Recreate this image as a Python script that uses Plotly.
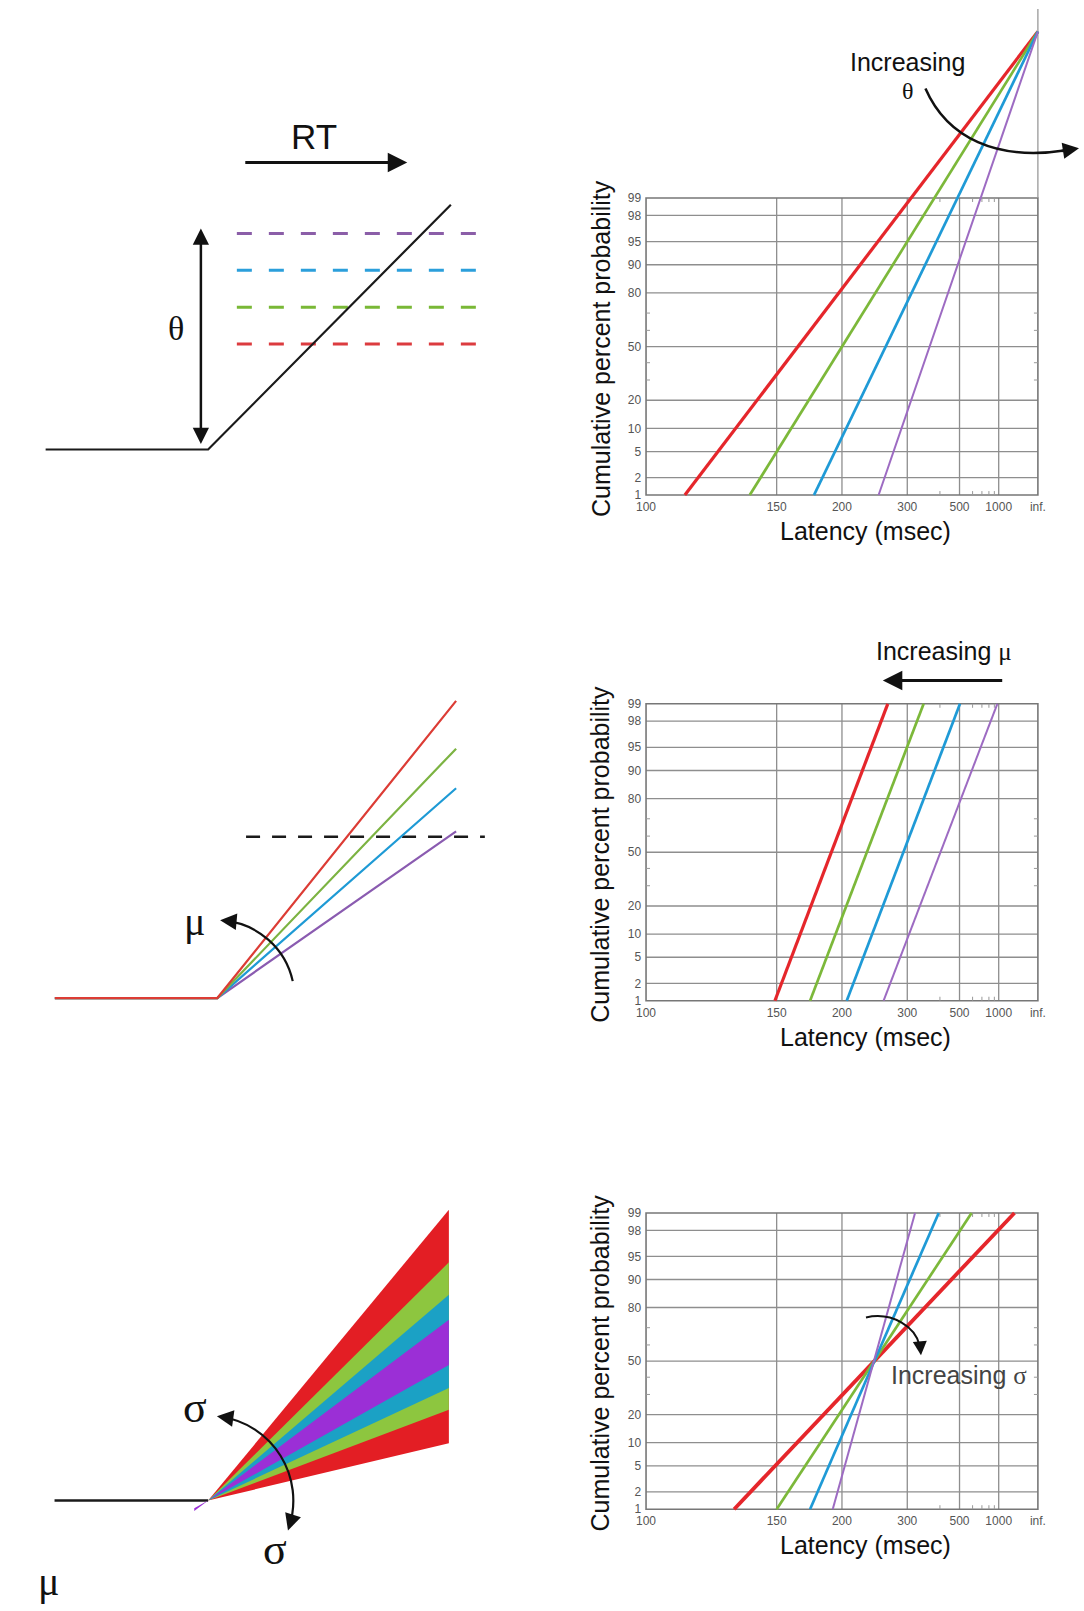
import math
from statistics import NormalDist
import plotly.graph_objects as go

# ---------------- data ----------------
ORDER = ["red", "green", "blue", "purple"]
LINE_COLORS = ["#e5262b", "#7cb83a", "#1f9ad6", "#9d6bc2"]
LINE_WIDTHS = [3.2, 2.7, 2.7, 2.0]

PCT_TICKS = [1, 2, 5, 10, 20, 50, 80, 90, 95, 98, 99]
PCT_MINOR = [30, 40, 60, 70]
LAT_TICKS = [100, 150, 200, 300, 500, 1000]
LAT_TICK_LABELS = ["100", "150", "200", "300", "500", "1000", "inf."]
LAT_MINOR = [400, 600, 700, 800, 900]

# Panel A (theta): latency at 1 %, all lines meet at infinite latency
THETA_LAT_1PCT = [111, 136, 175, 246]
THETA_APEX_PCT = 99.99996
# Panel B (mu): latency at 1 % and 99 %
MU_LAT_1PCT = [149, 172, 205, 254]
MU_LAT_99PCT = [261, 343, 503, 966]
# Panel C (sigma): latency at 1 % and 99 %
SIGMA_LAT_1PCT = [129, 150, 172, 191]
SIGMA_LAT_99PCT = [1670, 591, 395, 319]

# Schematic A: single rise, four thresholds (red, green, blue, purple)
A_TIME = [-164, 0, 245]
A_SIGNAL = [0, 0, 246]
A_THRESHOLDS = [106, 143, 180, 217]
A_THRESH_COLORS = ["#dc3b3f", "#79b836", "#2b9fdb", "#8b5ea8"]
A_DASH_SPAN = [29, 271]
# Schematic B: four rates of rise, one threshold
B_RATES = [1.239, 1.040, 0.875, 0.695]
B_TIME = [-164, 0, 241]
B_THRESHOLD = 162
B_DASH_SPAN = [29, 270]
B_COLORS = ["#dc3c35", "#7cb342", "#1e9ad5", "#8a5bb0"]
# Schematic C: fan of rates (upper / lower slope of each band)
C_UPPER = [1.203, 0.985, 0.851, 0.748]
C_LOWER = [0.237, 0.375, 0.465, 0.561]
C_START = [0, 0, 0, -14]
C_END = 243
C_BASE = [-155, 0]
C_COLORS = ["#e31e24", "#8dc63f", "#1ba1c5", "#9b2fd6"]

# ---------------- layout helpers ----------------
W, H = 1084, 1611
SANS = "Liberation Sans, Arial, sans-serif"
SERIF = "Liberation Serif, Times New Roman, serif"
nd = NormalDist()


def probit(p):
    return nd.inv_cdf(p / 100.0)


def recip(lat):
    return 0.0 if math.isinf(lat) else -1000.0 / lat


XL, XR = 646.0, 1041.5
XPX = (XR - XL) / 10.0
XPAD = 0.1
Z99 = probit(99)
ZPAD = 0.05
ROWS = [(195.0, 493.5), (703.3, 1001.7), (1215.0, 1512.7)]

fig = go.Figure()
layout_axes = {}
shapes = []
annotations = []

for i, (top, bot) in enumerate(ROWS):
    n = "" if i == 0 else str(i + 1)
    zpx = (bot - top) / (2 * Z99)
    y_lo = -Z99 - ZPAD
    if i == 0:
        y_hi = Z99 + (top - 5) / zpx
    else:
        y_hi = Z99 + ZPAD
    dom_y0 = 1 - (bot + ZPAD * zpx) / H
    dom_y1 = 1 - (bot - (y_hi - y_lo - ZPAD) * zpx) / H
    layout_axes["xaxis" + n] = dict(
        domain=[(XL - XPAD * XPX) / W, (XR + XPAD * XPX) / W],
        range=[-10 - XPAD, XPAD], anchor="y" + n,
        tickvals=[recip(v) for v in LAT_TICKS] + [0.0], ticktext=LAT_TICK_LABELS,
        tickfont=dict(size=12, color="#555", family=SANS),
        showgrid=False, zeroline=False, showline=False, ticks="", fixedrange=True)
    layout_axes["yaxis" + n] = dict(
        domain=[dom_y0, dom_y1], range=[y_lo, y_hi], anchor="x" + n,
        tickvals=[probit(p) for p in PCT_TICKS], ticktext=[str(p) for p in PCT_TICKS],
        tickfont=dict(size=12, color="#555", family=SANS),
        showgrid=False, zeroline=False, showline=False, ticks="", fixedrange=True)
    xr, yr = "x" + n, "y" + n
    z1, z99 = probit(1), probit(99)
    gcol = "#8e8e8e"
    for p in PCT_TICKS[1:-1]:
        shapes.append(dict(type="line", xref=xr, yref=yr, x0=-10, x1=0, y0=probit(p), y1=probit(p),
                           line=dict(color=gcol, width=1.3), layer="below"))
    for v in LAT_TICKS[1:]:
        shapes.append(dict(type="line", xref=xr, yref=yr, x0=recip(v), x1=recip(v), y0=z1, y1=z99,
                           line=dict(color=gcol, width=1.3), layer="below"))
    shapes.append(dict(type="rect", xref=xr, yref=yr, x0=-10, x1=0, y0=z1, y1=z99,
                       line=dict(color="#777", width=1.6), layer="below"))
    if i == 0:
        shapes.append(dict(type="line", xref=xr, yref=yr, x0=0, x1=0, y0=z99, y1=y_hi,
                           line=dict(color="#999", width=1.3), layer="below"))
    tz = 4 / zpx
    for v in LAT_MINOR:
        for yy, d in ((z1, tz), (z99, -tz)):
            shapes.append(dict(type="line", xref=xr, yref=yr, x0=recip(v), x1=recip(v), y0=yy, y1=yy + d,
                               line=dict(color="#999", width=1), layer="below"))
    tx = 4 / XPX
    for p in PCT_MINOR:
        for xx, d in ((-10, tx), (0, -tx)):
            shapes.append(dict(type="line", xref=xr, yref=yr, x0=xx, x1=xx + d, y0=probit(p), y1=probit(p),
                               line=dict(color="#999", width=1), layer="below"))
    # axis titles
    annotations.append(dict(xref="x4", yref="y4", x=600, y=(top + bot) / 2 + 2, text="Cumulative percent probability",
                            textangle=-90, showarrow=False, font=dict(size=25, color="#111", family=SANS)))
    annotations.append(dict(xref="x4", yref="y4", x=868, y=bot + 36, text="Latency (msec)",
                            showarrow=False, font=dict(size=25, color="#111", family=SANS)))

# reciprobit lines
for k in range(4):
    fig.add_trace(go.Scatter(x=[recip(THETA_LAT_1PCT[k]), recip(math.inf)],
                             y=[probit(1), probit(THETA_APEX_PCT)], mode="lines",
                             line=dict(color=LINE_COLORS[k], width=LINE_WIDTHS[k]),
                             xaxis="x", yaxis="y", showlegend=False, hoverinfo="skip"))
for k in range(4):
    fig.add_trace(go.Scatter(x=[recip(MU_LAT_1PCT[k]), recip(MU_LAT_99PCT[k])],
                             y=[probit(1), probit(99)], mode="lines",
                             line=dict(color=LINE_COLORS[k], width=LINE_WIDTHS[k]),
                             xaxis="x2", yaxis="y2", showlegend=False, hoverinfo="skip"))
for k in range(4):
    fig.add_trace(go.Scatter(x=[recip(SIGMA_LAT_1PCT[k]), recip(SIGMA_LAT_99PCT[k])],
                             y=[probit(1), probit(99)], mode="lines",
                             line=dict(color=LINE_COLORS[k], width=LINE_WIDTHS[k] + (0.6 if k == 0 else 0)),
                             xaxis="x3", yaxis="y3", showlegend=False, hoverinfo="skip"))

# canvas axis for schematics (pixel-like units)
layout_axes["xaxis4"] = dict(domain=[0, 1], range=[0, W], anchor="y4", visible=False, fixedrange=True)
layout_axes["yaxis4"] = dict(domain=[0, 1], range=[H, 0], anchor="x4", visible=False, fixedrange=True)


def canvas_line(xs, ys, color, width, dash=None):
    fig.add_trace(go.Scatter(x=xs, y=ys, mode="lines", xaxis="x4", yaxis="y4",
                             line=dict(color=color, width=width, dash=dash),
                             showlegend=False, hoverinfo="skip"))


def arrow(x, y, ax, ay, color="#111", width=2.5, size=1.3, side="end"):
    annotations.append(dict(xref="x4", yref="y4", axref="x4", ayref="y4", x=x, y=y, ax=ax, ay=ay,
                            text="", showarrow=True, arrowhead=2, arrowsize=size, arrowwidth=width,
                            arrowcolor=color, arrowside=side, standoff=0, startstandoff=0))


def text(x, y, s, size, family=SANS, color="#111"):
    annotations.append(dict(xref="x4", yref="y4", x=x, y=y, text=s, showarrow=False,
                            font=dict(size=size, family=family, color=color)))


def arc_path(cx, cy, r, a0, a1, nseg):
    da = (a1 - a0) / nseg
    kk = 4 / 3 * math.tan(math.radians(da) / 4)
    path = ""
    for s_i in range(nseg):
        s = math.radians(a0 + s_i * da)
        e = math.radians(a0 + (s_i + 1) * da)
        p0 = (cx + r * math.cos(s), cy - r * math.sin(s))
        p3 = (cx + r * math.cos(e), cy - r * math.sin(e))
        p1 = (p0[0] - kk * r * math.sin(s), p0[1] - kk * r * math.cos(s))
        p2 = (p3[0] + kk * r * math.sin(e), p3[1] + kk * r * math.cos(e))
        if s_i == 0:
            path += f"M {p0[0]:.1f},{p0[1]:.1f} "
        path += f"C {p1[0]:.1f},{p1[1]:.1f} {p2[0]:.1f},{p2[1]:.1f} {p3[0]:.1f},{p3[1]:.1f} "
    return path


def path_shape(path, color, width):
    shapes.append(dict(type="path", xref="x4", yref="y4", path=path,
                       line=dict(color=color, width=width)))


# --- schematic A ---
OAX, OAY = 204.0, 447.7
for lvl, col in zip(A_THRESHOLDS, A_THRESH_COLORS):
    canvas_line([OAX + A_DASH_SPAN[0], OAX + A_DASH_SPAN[1]], [OAY - lvl, OAY - lvl], col, 3, "15px,17px")
canvas_line([OAX + t for t in A_TIME], [OAY - s for s in A_SIGNAL], "#1a1a1a", 2.2)
arrow(405, 159.3, 240, 159.3, width=3, size=1.3)
text(311, 133, "RT", 35)
arrow(196.7, OAY - max(A_THRESHOLDS) - 5, 196.7, OAY - 4, width=2.5, size=1.3, side="end+start")
text(172, 326, "θ", 34, SERIF)

# --- schematic B ---
OBX, OBY = 213.3, 999.0
canvas_line([OBX + B_DASH_SPAN[0], OBX + B_DASH_SPAN[1]], [OBY - B_THRESHOLD] * 2, "#1a1a1a", 2.5, "14px,12px")
for rate, col in list(zip(B_RATES, B_COLORS))[::-1]:
    canvas_line([OBX + t for t in B_TIME], [OBY - rate * max(t, 0) for t in B_TIME], col, 2.2)
a0, a1, rr = 12.6, 85.0, 78.0
path_shape(arc_path(OBX, OBY, rr, a0, a1, 1), "#111", 2.2)
ea = math.radians(a1)
ex, ey = OBX + rr * math.cos(ea), OBY - rr * math.sin(ea)
arrow(ex - 4 * math.sin(ea), ey - 4 * math.cos(ea), ex + 8 * math.sin(ea), ey + 8 * math.cos(ea), width=2.2, size=1.5)
text(190, 922, "μ", 40, SERIF)

# --- schematic C ---
OCX, OCY = 204.0, 1504.0
canvas_line([OCX + t for t in C_BASE], [OCY, OCY], "#1a1a1a", 2.5)
for up, lo, t0, col in zip(C_UPPER, C_LOWER, C_START, C_COLORS):
    fig.add_trace(go.Scatter(x=[OCX + t0, OCX + C_END, OCX + C_END, OCX + t0],
                             y=[OCY - up * t0, OCY - up * C_END, OCY - lo * C_END, OCY - lo * t0],
                             mode="lines", fill="toself", fillcolor=col, line=dict(width=0, color=col),
                             xaxis="x4", yaxis="y4", showlegend=False, hoverinfo="skip"))
b0, b1, rs = -18.0, 82.0, 85.0
path_shape(arc_path(OCX + 1, OCY, rs, b0, b1, 2), "#111", 2.2)
ea = math.radians(b1)
ex, ey = OCX + 1 + rs * math.cos(ea), OCY - rs * math.sin(ea)
arrow(ex - 4 * math.sin(ea), ey - 4 * math.cos(ea), ex + 8 * math.sin(ea), ey + 8 * math.cos(ea), width=2.2, size=1.5)
sa = math.radians(b0)
sx, sy = OCX + 1 + rs * math.cos(sa), OCY - rs * math.sin(sa)
arrow(sx + 4 * math.sin(sa), sy + 4 * math.cos(sa), sx - 8 * math.sin(sa), sy - 8 * math.cos(sa), width=2.2, size=1.5)
text(191, 1411, "σ", 44, SERIF)
text(271, 1553, "σ", 44, SERIF)
text(43, 1585, "μ", 40, SERIF)

# --- right column annotations ---
text(910, 58, "Increasing", 25)
text(910, 87, "θ", 24, SERIF)
path_shape("M 928,85 C 950,135 1000,158 1070,147", "#111", 2.5)
arrow(1083, 145, 1064, 148, width=2.5, size=1.3)

text(947, 650, 'Increasing <span style="font-family:Liberation Serif">μ</span>', 25)
arrow(885, 680, 1007, 680, width=3, size=1.3)

text(962, 1378, 'Increasing <span style="font-family:Liberation Serif">σ</span>', 25, color="#444")
path_shape("M 868,1320 C 895,1314 918,1330 922,1348", "#111", 2)
arrow(923.5, 1358, 922.5, 1346, width=2, size=1.4)

fig.update_layout(width=W, height=H, margin=dict(l=0, r=0, t=0, b=0),
                  paper_bgcolor="white", plot_bgcolor="rgba(0,0,0,0)",
                  shapes=shapes, annotations=annotations, showlegend=False, **layout_axes)
fig.write_html("out.html", config={"displayModeBar": False},
               post_script="document.body.style.margin='0';")
